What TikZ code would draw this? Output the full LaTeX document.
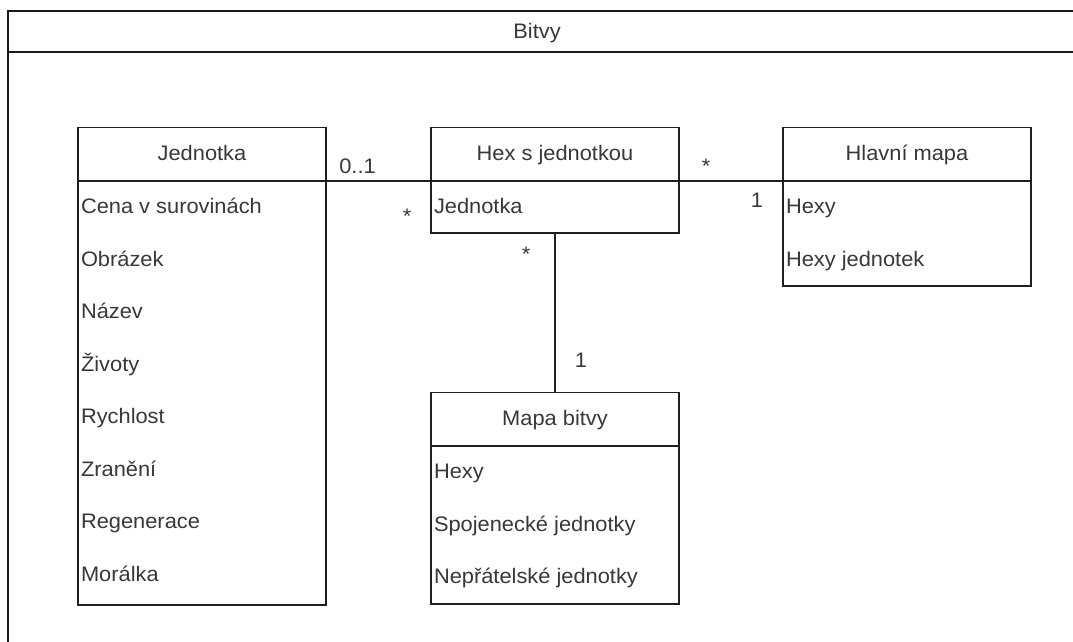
\documentclass[tikz,border=0pt]{standalone}
\usepackage{fontspec}
\setmainfont{Liberation Sans}[FakeStretch=1.04]
\begin{document}
\begin{tikzpicture}[x=1pt,y=-1pt,
  frameline/.style={draw=black!90, line width=2pt},
  classbox/.style={draw=black!88, line width=1.6pt, inner sep=0pt, outer sep=0pt,
    anchor=north west, minimum width=248pt},
  conn/.style={draw=black!88, line width=1.5pt},
  txt/.style={text=black!78, font=\fontsize{21}{24}\selectfont, inner sep=0pt, outer sep=0pt},
  title/.style={txt, anchor=base},
  attr/.style={txt, anchor=base west},
  mult/.style={txt, anchor=base}]
\useasboundingbox (0,0) rectangle (1073,641);
\clip (0,0) rectangle (1073,641);
\fill[white] (0,0) rectangle (1073,641);

% package frame
\draw[frameline] (1090,11) -- (8,11) -- (8,660);
\draw[frameline] (8,52) -- (1090,52);
\node[title] (pkgTitle) at (537,38.8) {Bitvy};

% class Jednotka
\node[classbox, minimum height=53.5pt] (jedH) at (78,127.5) {};
\node[classbox, minimum height=424pt] (jedB) at (78,181) {};
\node[title] (jedT) at (202,160.5) {Jednotka};
\node[attr] (jed1) at (81,213.5) {Cena v surovinách};
\node[attr] (jed2) at (81,266) {Obrázek};
\node[attr] (jed3) at (81,318.5) {Název};
\node[attr] (jed4) at (81,371) {Životy};
\node[attr] (jed5) at (81,423.5) {Rychlost};
\node[attr] (jed6) at (81,476) {Zranění};
\node[attr] (jed7) at (81,528.5) {Regenerace};
\node[attr] (jed8) at (81,581) {Morálka};

% class Hex s jednotkou
\node[classbox, minimum height=53.5pt] (hexH) at (431,127.5) {};
\node[classbox, minimum height=52pt] (hexB) at (431,181) {};
\node[title] (hexT) at (555,160.5) {Hex s jednotkou};
\node[attr] (hex1) at (434,213.5) {Jednotka};

% class Hlavní mapa
\node[classbox, minimum height=53.5pt] (mainH) at (783,127.5) {};
\node[classbox, minimum height=105pt] (mainB) at (783,181) {};
\node[title] (mainT) at (907,160.5) {Hlavní mapa};
\node[attr] (main1) at (786,213.5) {Hexy};
\node[attr] (main2) at (786,266) {Hexy jednotek};

% class Mapa bitvy
\node[classbox, minimum height=53.5pt] (mapH) at (431,392.5) {};
\node[classbox, minimum height=158pt] (mapB) at (431,446) {};
\node[title] (mapT) at (555,425) {Mapa bitvy};
\node[attr] (map1) at (434,478.5) {Hexy};
\node[attr] (map2) at (434,531) {Spojenecké jednotky};
\node[attr] (map3) at (434,583.5) {Nepřátelské jednotky};

% associations
\draw[conn] (jedH.south east) -- (hexH.south west);
\draw[conn] (hexH.south east) -- (mainH.south west);
\draw[conn] (hexB.south) -- (mapH.north);

% multiplicities
\node[mult] (m1) at (357.5,173) {0..1};
\node[mult] (m2) at (407,223.4) {*};
\node[mult] (m3) at (706,173.6) {*};
\node[mult] (m4) at (757,207) {1};
\node[mult] (m5) at (526,261) {*};
\node[mult] (m6) at (581,367) {1};
\end{tikzpicture}
\end{document}
